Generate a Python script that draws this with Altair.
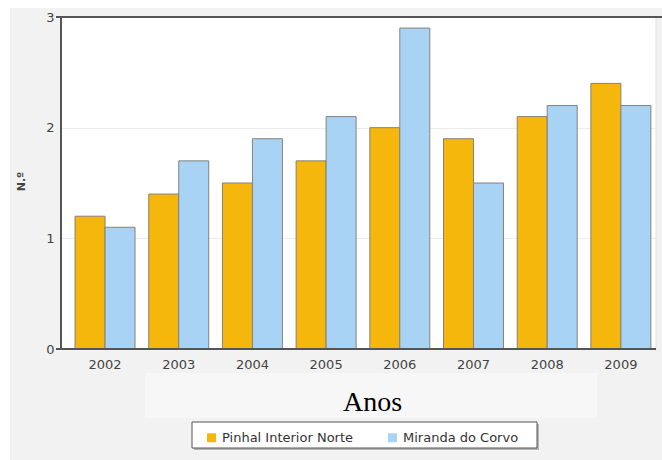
import altair as alt
import pandas as pd

# Values per year for the two areas
anos = ["2002", "2003", "2004", "2005", "2006", "2007", "2008", "2009"]
pinhal = [1.2, 1.4, 1.5, 1.7, 2.0, 1.9, 2.1, 2.4]
miranda = [1.1, 1.7, 1.9, 2.1, 2.9, 1.5, 2.2, 2.2]
series = ["Pinhal Interior Norte", "Miranda do Corvo"]
colors = ["#F5B70C", "#A9D3F5"]
y_ticks = [0, 1, 2, 3]

rows = []
for i, ano in enumerate(anos):
    rows.append({"Ano": ano, "Série": series[0], "Valor": pinhal[i]})
    rows.append({"Ano": ano, "Série": series[1], "Valor": miranda[i]})
df = pd.DataFrame(rows)

W, H = 595, 332
one = alt.Data(values=[{}])


def box(x, x2, y, y2, color, **kw):
    return alt.Chart(one).mark_rect(color=color, **kw).encode(
        x=alt.value(x), x2=alt.value(x2), y=alt.value(y), y2=alt.value(y2)
    )


def rule(x, x2, y, y2, color, width):
    return alt.Chart(one).mark_rule(color=color, strokeWidth=width).encode(
        x=alt.value(x), x2=alt.value(x2), y=alt.value(y), y2=alt.value(y2)
    )


# white margins at top and left of the grey page
top_strip = box(-61, W + 6, -17, -9, "white")
left_strip = box(-61, -51, -17, H + 111, "white")
# lighter band behind the x title
title_band = box(84, 536, 356, 401, "#f7f7f7")

bars = alt.Chart(df).mark_bar(stroke="#86827a", strokeWidth=1).encode(
    x=alt.X(
        "Ano:N",
        sort=anos,
        scale=alt.Scale(paddingInner=0.186, paddingOuter=0.13, align=0.733),
        axis=alt.Axis(
            title="Anos",
            titleFont="Liberation Serif",
            titleFontSize=28,
            titleFontWeight="normal",
            titleColor="#000000",
            titleX=311,
            titleY=61,
            titleBaseline="alphabetic",
            titleAlign="center",
            labelFont="DejaVu Sans",
            labelFontSize=13,
            labelColor="#444444",
            labelAngle=0,
            labelPadding=9,
            ticks=False,
            domain=False,
            grid=False,
            zindex=1,
        ),
    ),
    xOffset=alt.XOffset("Série:N", sort=series, scale=alt.Scale(paddingInner=0, paddingOuter=0)),
    y=alt.Y(
        "Valor:Q",
        scale=alt.Scale(domain=[0, 3], nice=False, zero=True),
        axis=alt.Axis(
            values=y_ticks,
            format="d",
            title="N.º",
            titleFont="DejaVu Sans",
            titleFontSize=11,
            titleFontWeight="bold",
            titleColor="#444444",
            titleX=-40,
            titleY=164,
            titleAlign="center",
            titleBaseline="middle",
            labelFont="DejaVu Sans",
            labelFontSize=13,
            labelColor="#444444",
            labelPadding=7,
            ticks=False,
            domain=False,
            grid=True,
            gridColor="#ececec",
            gridWidth=1,
        ),
    ),
    color=alt.Color(
        "Série:N",
        sort=series,
        scale=alt.Scale(domain=series, range=colors),
        legend=alt.Legend(
            title=None,
            orient="none",
            legendX=144,
            legendY=414,
            direction="horizontal",
            symbolType="square",
            symbolSize=81,
            symbolStrokeWidth=0,
            labelFont="DejaVu Sans",
            labelFontSize=13,
            labelColor="#333333",
            labelOffset=4,
            columnPadding=32,
            padding=0,
        ),
    ),
)

# frame lines of the plot area
frame = [
    rule(W, W, 0, H, "#e2e2e2", 1),
    rule(-5, W + 6, 0, 0, "#555555", 2),
    rule(-5, W, H, H, "#555555", 2),
    rule(0, 0, 0, H, "#555555", 2),
]

# legend box with a soft shadow
legend_shadow = box(133, 478, 407, 433, "#8c8c8c", opacity=0.6)
legend_box = box(131, 476, 405, 431, "white", stroke="#555555", strokeWidth=1)

chart = alt.layer(
    top_strip, left_strip, title_band, bars, *frame, legend_shadow, legend_box
).properties(
    width=W,
    height=H,
    background="#f2f2f2",
    padding={"left": 61, "top": 17, "right": 6, "bottom": 111},
    autosize=alt.AutoSizeParams(type="none"),
).configure_view(fill="white", stroke=None)

chart.save("out.html", embed_options={"renderer": "svg", "actions": False})
